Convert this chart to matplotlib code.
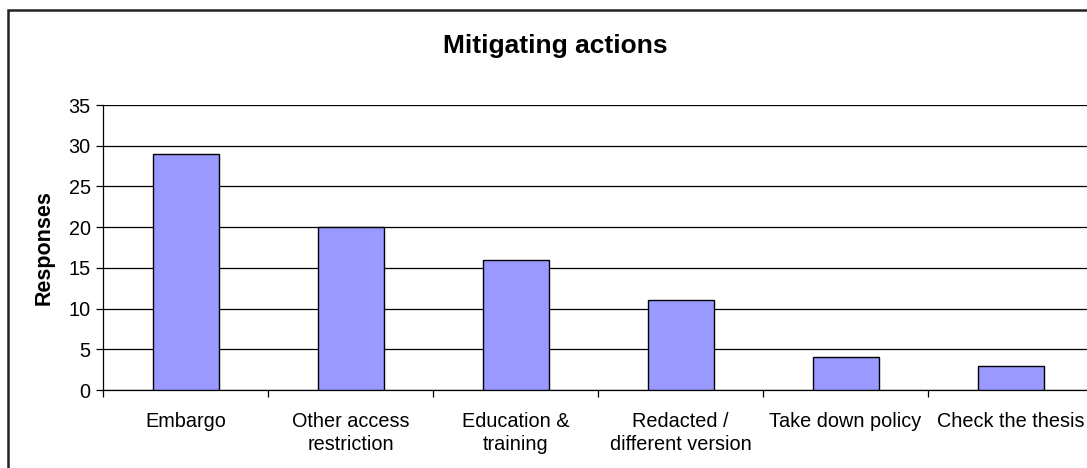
import numpy as np
import matplotlib.pyplot as plt
from matplotlib.patches import Rectangle

plt.rcParams['font.family'] = ['Liberation Sans', 'DejaVu Sans']

categories = ['Embargo', 'Other access\nrestriction', 'Education &\ntraining',
              'Redacted /\ndifferent version', 'Take down policy', 'Check the thesis']
responses = [29, 20, 16, 11, 4, 3]
yticks = [0, 5, 10, 15, 20, 25, 30, 35]

fig = plt.figure(figsize=(10.87, 4.68), dpi=100)
# outer chart frame (runs off the right and bottom edges)
fig.patches.append(Rectangle((8 / 1087, -0.05), 1.2, 1 - 10 / 468 + 0.05,
                             transform=fig.transFigure, fill=False,
                             edgecolor='#222222', linewidth=1.8, zorder=0))

ax = fig.add_axes([103 / 1087, 1 - 390 / 468, 990 / 1087, 285 / 468])
x = np.arange(len(categories))
ax.bar(x, responses, width=0.4, color='#9999FF', edgecolor='black',
       linewidth=1, zorder=3)

ax.set_xlim(-0.5, len(categories) - 0.5)
ax.set_ylim(0, 35)
ax.set_yticks(yticks)
ax.yaxis.grid(True, color='black', linewidth=0.9, zorder=0)
ax.set_axisbelow(True)

ax.set_xticks(x)
ax.set_xticklabels(categories, fontsize=14.3, linespacing=1.25)
ax.set_xticks(np.arange(len(categories) + 1) - 0.5, minor=True)
ax.tick_params(axis='x', which='major', length=0, pad=16)
ax.tick_params(axis='x', which='minor', length=5, width=0.9, color='black')
ax.tick_params(axis='y', length=5, width=0.9, labelsize=14.3, pad=4)

for s in ['top', 'right']:
    ax.spines[s].set_visible(False)
ax.spines['left'].set_linewidth(0.9)
ax.spines['bottom'].set_linewidth(0.9)

ax.set_ylabel('Responses', fontsize=15.5, fontweight='bold', labelpad=10)
fig.text(555 / 1087, 1 - 53 / 468, 'Mitigating actions', fontsize=19,
         fontweight='bold', ha='center', va='baseline')

fig.savefig('out.png', dpi=100)
